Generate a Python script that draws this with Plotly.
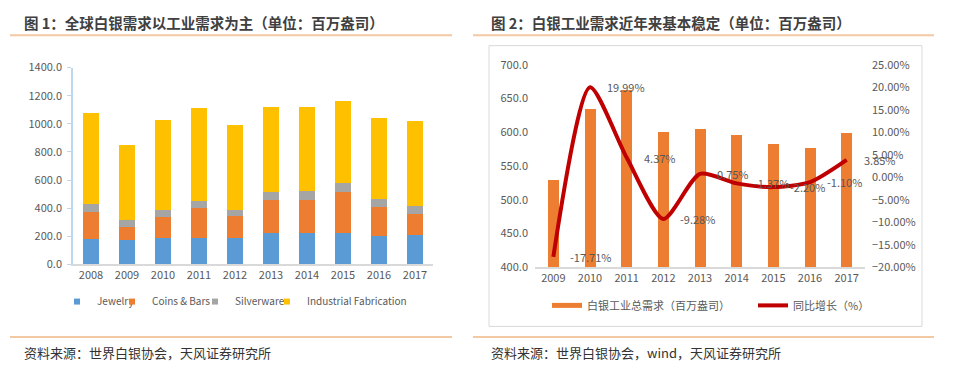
import plotly.graph_objects as go

# ---------------- data ----------------
years1 = ["2008", "2009", "2010", "2011", "2012", "2013", "2014", "2015", "2016", "2017"]
jewelry = [179, 174, 188, 188, 186, 220, 224, 224, 202, 208]
coins_bars = [195, 93, 149, 213, 161, 240, 231, 292, 206, 150]
silverware = [56, 52, 48, 47, 38, 56, 64, 62, 54, 56]
industrial = [644, 530, 639, 662, 605, 607, 598, 584, 578, 603]

years2 = ["2009", "2010", "2011", "2012", "2013", "2014", "2015", "2016", "2017"]
industrial_total = [528.5, 634.0, 662.0, 600.0, 604.5, 596.5, 583.0, 576.7, 599.0]
yoy_growth = [-17.71, 19.99, 4.37, -9.28, 0.75, -1.37, -2.20, -1.10, 3.85]

title1 = "图 1：全球白银需求以工业需求为主（单位：百万盎司）"
title2 = "图 2：白银工业需求近年来基本稳定（单位：百万盎司）"
source1 = "资料来源：世界白银协会，天风证券研究所"
source2 = "资料来源：世界白银协会，wind，天风证券研究所"

# page is 957x371; the html body keeps its default 8px margin
PAGE_W, PAGE_H, BODY_M = 957, 371, 8
W, H = PAGE_W - 2 * BODY_M, PAGE_H - 2 * BODY_M
FONT = "Noto Sans CJK SC"
GRAY = "#595959"

def px(x):
    return (x - BODY_M) / W

def py(y):
    return 1 - (y - BODY_M) / H

fig = go.Figure()

# ---------------- left chart: stacked bars ----------------
stack = [
    ("Jewelry", jewelry, "#5B9BD5", 10),
    ("Coins & Bars", coins_bars, "#ED7D31", 38),
    ("Silverware", silverware, "#A5A5A5", 27),
    ("Industrial Fabrication", industrial, "#FFC000", 100),
]
for name, vals, col, _ in stack:
    fig.add_trace(go.Bar(x=years1, y=vals, name=name, marker=dict(color=col, line=dict(width=0)),
                         width=0.42, xaxis="x", yaxis="y", showlegend=False))
for name, vals, col, lw in stack:
    fig.add_trace(go.Scatter(x=[None], y=[None], mode="markers", name=name,
                             marker=dict(symbol="square", size=6, color=col),
                             xaxis="x", yaxis="y", legend="legend", legendwidth=lw))

# ---------------- right chart: bars + growth line ----------------
fig.add_trace(go.Bar(x=years2, y=industrial_total, name="白银工业总需求（百万盎司）",
                     marker=dict(color="#ED7D31", line=dict(width=0)), width=0.3,
                     xaxis="x2", yaxis="y2", showlegend=False))
fig.add_trace(go.Scatter(x=[None], y=[None], mode="lines", name="白银工业总需求（百万盎司）",
                         line=dict(color="#ED7D31", width=5), xaxis="x2", yaxis="y2",
                         legend="legend2", legendwidth=161))
fig.add_trace(go.Scatter(x=years2, y=yoy_growth, mode="lines", name="同比增长（%）",
                         line=dict(color="#C00000", width=4, shape="spline", smoothing=0.7),
                         xaxis="x2", yaxis="y3", legend="legend2"))

annotations = []
for i, g in enumerate(yoy_growth):
    annotations.append(dict(x=i, y=g, xref="x2", yref="y3", text=f"{g:.2f}%",
                            showarrow=False, xanchor="left", yanchor="middle", xshift=15,
                            font=dict(family=FONT, size=11, color=GRAY)))

# titles and sources
for txt, x, y, size, bold in [(title1, 22, 14, 14.5, True), (title2, 489, 14, 14.5, True),
                              (source1, 22, 359, 13, False), (source2, 489, 359, 13, False)]:
    annotations.append(dict(x=px(x), y=py(y), xref="paper", yref="paper",
                            text=f"<b>{txt}</b>" if bold else txt, showarrow=False,
                            xanchor="left", yanchor="middle",
                            font=dict(family=FONT, size=size, color="#404040" if bold else "#333333")))

shapes = []
line_col = "#F2C9A2"
for x0, x1, y in [(10, 452, 27), (473, 934, 27), (10, 452, 343), (473, 934, 343)]:
    shapes.append(dict(type="line", xref="paper", yref="paper", x0=px(x0), x1=px(x1),
                       y0=py(y), y1=py(y), line=dict(color=line_col, width=2)))
shapes.append(dict(type="rect", xref="paper", yref="paper", x0=px(489), x1=px(922),
                   y0=py(332), y1=py(38), line=dict(color="#D9D9D9", width=1), layer="below"))

tickfont = dict(family=FONT, size=11, color=GRAY)

fig.update_layout(
    width=W, height=H,
    margin=dict(l=0, r=0, t=0, b=0),
    paper_bgcolor="white", plot_bgcolor="white",
    barmode="stack",
    font=dict(family=FONT, size=11, color=GRAY),
    xaxis=dict(domain=[px(73), px(433)], type="category", anchor="y", range=[-0.5, 9.5],
               showline=True, linecolor="#D9D9D9", linewidth=1.5, ticks="",
               tickfont=tickfont, showgrid=False),
    yaxis=dict(domain=[py(267), py(61)], range=[0, 1400], dtick=200, tickformat=".1f",
               anchor="x", showline=True, linecolor="#BDD7EE", linewidth=1.5,
               ticks="outside", ticklen=4, tickcolor="#BDD7EE",
               showgrid=False, zeroline=False, tickfont=tickfont, ticklabelstandoff=3),
    xaxis2=dict(domain=[px(535), px(865)], type="category", anchor="y2", range=[-0.5, 8.5],
                showline=True, linecolor="#D9D9D9", linewidth=1.5, ticks="",
                tickfont=tickfont, showgrid=False),
    yaxis2=dict(domain=[py(270), py(58)], range=[400, 700], dtick=50, tickformat=".1f",
                anchor="x2", showline=False, showgrid=False, zeroline=False,
                tickfont=tickfont, ticklabelstandoff=6),
    yaxis3=dict(overlaying="y2", side="right", anchor="x2", range=[-20, 25], dtick=5,
                tickformat=".2f", ticksuffix="%", showline=False, showgrid=False,
                zeroline=False, tickfont=tickfont, ticklabelstandoff=6),
    legend=dict(orientation="h", x=px(57), xanchor="left", y=py(306), yanchor="middle",
                font=dict(family=FONT, size=10, color=GRAY), itemwidth=30,
                traceorder="normal", bgcolor="rgba(0,0,0,0)"),
    legend2=dict(orientation="h", x=px(547), xanchor="left", y=py(310), yanchor="middle",
                 font=dict(family=FONT, size=11, color=GRAY), itemwidth=30,
                 traceorder="normal", bgcolor="rgba(0,0,0,0)"),
    annotations=annotations,
    shapes=shapes,
)

fig.write_html("out.html", config={"displayModeBar": False})
